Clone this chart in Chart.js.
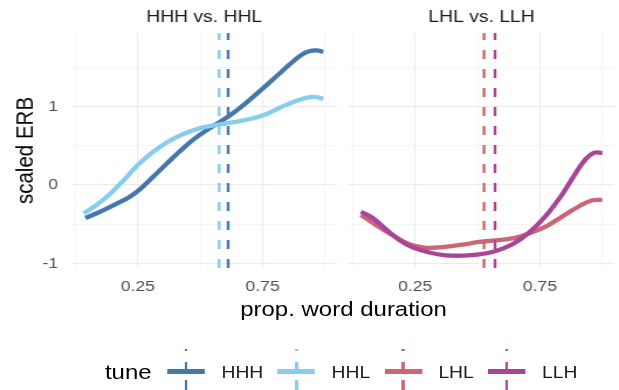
<!DOCTYPE html>
<html>
<head>
<meta charset="utf-8">
<script src="https://cdn.jsdelivr.net/npm/chart.js@4/dist/chart.umd.min.js"></script>
<style>
  html, body { margin: 0; padding: 0; background: #fff; overflow: hidden; }
  body { width: 619px; height: 390px; }
  /* the reference is a bit wider than tall, so draw narrow and stretch */
  #fig { position: relative; width: 529px; height: 390px; transform: scaleX(1.17013); transform-origin: 0 0;
         font-family: "Liberation Sans", Arial, sans-serif; }
  #fig canvas { position: absolute; top: 0; }
  #xtitle { position: absolute; left: 293.6px; top: 297px; transform: translateX(-50%); font-size: 20.5px;
            line-height: 24px; white-space: nowrap; color: #000; }
  #legend { position: absolute; left: 89.7px; top: 341px; height: 49px; display: flex; align-items: flex-start; }
  #legend .ttl { font-size: 20.5px; line-height: 62px; margin-right: 13.7px; color: #000; }
  #legend .key { position: relative; width: 32px; height: 49px; margin-right: 14px; }
  #legend .bar { position: absolute; left: 0; top: 28.3px; width: 32px; height: 4.3px; }
  #legend .vln { position: absolute; left: 14.8px; top: 8px; width: 2.4px; height: 41px; }
  #legend .lab { font-size: 16.5px; line-height: 62px; margin-right: 12.3px; color: #1a1a1a; }
</style>
</head>
<body>
<div id="fig">
  <canvas id="left" width="288" height="300" style="left:0"></canvas>
  <canvas id="right" width="241" height="300" style="left:288px"></canvas>
  <div id="xtitle">prop. word duration</div>
  <div id="legend"><span class="ttl">tune</span></div>
</div>
<script>
// axes
const xTicks = [0, 0.25, 0.5, 0.75, 1];
const xLabels = ['', '0.25', '', '0.75', ''];
const yTicks = [-1, -0.5, 0, 0.5, 1, 1.5];
const yLabels = ['-1', '', '0', '', '1', ''];

// tunes
const tunes = ['HHH', 'HHL', 'LHL', 'LLH'];
const tuneColors = ['#4477AA', '#88CCEE', '#CC6677', '#AA4499'];
const panelTitles = ['HHH vs. HHL', 'LHL vs. LLH'];

// smoothed curves (proportion of word duration, scaled ERB)
const hhhX = [0.040, 0.100, 0.167, 0.220, 0.260, 0.313, 0.367, 0.420, 0.473, 0.527, 0.580, 0.633, 0.687, 0.753, 0.807, 0.860, 0.900, 0.933, 0.967, 0.993];
const hhhY = [-0.42, -0.34, -0.235, -0.145, -0.05, 0.11, 0.275, 0.435, 0.58, 0.70, 0.805, 0.92, 1.055, 1.235, 1.39, 1.54, 1.645, 1.70, 1.715, 1.695];
const hhlX = [0.033, 0.087, 0.140, 0.193, 0.247, 0.300, 0.367, 0.433, 0.500, 0.567, 0.633, 0.700, 0.767, 0.833, 0.900, 0.940, 0.967, 0.993];
const hhlY = [-0.36, -0.25, -0.11, 0.06, 0.245, 0.395, 0.545, 0.65, 0.725, 0.765, 0.80, 0.84, 0.905, 1.005, 1.09, 1.12, 1.12, 1.095];
const lhlX = [0.033, 0.093, 0.160, 0.227, 0.293, 0.360, 0.440, 0.507, 0.573, 0.640, 0.707, 0.773, 0.840, 0.907, 0.960, 1.000];
const lhlY = [-0.38, -0.51, -0.64, -0.755, -0.80, -0.79, -0.76, -0.725, -0.705, -0.68, -0.615, -0.53, -0.40, -0.27, -0.195, -0.19];
const llhX = [0.033, 0.080, 0.133, 0.187, 0.240, 0.307, 0.373, 0.440, 0.507, 0.573, 0.640, 0.707, 0.773, 0.840, 0.893, 0.933, 0.967, 1.000];
const llhY = [-0.34, -0.42, -0.565, -0.70, -0.795, -0.86, -0.895, -0.90, -0.885, -0.84, -0.755, -0.605, -0.395, -0.115, 0.15, 0.33, 0.41, 0.41];

// dashed reference lines, one per tune
const tuneMarks = [0.612, 0.576, 0.526, 0.570];

const curves = [[hhhX, hhhY], [hhlX, hhlY], [lhlX, lhlY], [llhX, llhY]];
const xMin = -0.016, xMax = 1.048, yMin = -1.057, yMax = 1.936;

Chart.defaults.font.family = '"Liberation Sans", Arial, sans-serif';

function curveSet(i) {
  const [xs, ys] = curves[i];
  return {
    data: xs.map((x, k) => ({ x: x, y: ys[k] })),
    borderColor: tuneColors[i],
    borderWidth: 4.3,
    pointRadius: 0,
    tension: 0.4,
    borderCapStyle: 'butt'
  };
}

function markSet(i) {
  return {
    data: [{ x: tuneMarks[i], y: yMin }, { x: tuneMarks[i], y: yMax }],
    borderColor: tuneColors[i],
    borderWidth: 2.4,
    borderDash: [9, 10],
    pointRadius: 0
  };
}

function makePanel(id, p, first) {
  const a = p * 2, b = p * 2 + 1;
  return new Chart(document.getElementById(id), {
    type: 'line',
    data: { datasets: [markSet(b), markSet(a), curveSet(b), curveSet(a)] },
    options: {
      responsive: false,
      animation: false,
      layout: { padding: { left: 0, right: first ? 0 : 4, top: 0, bottom: 0 } },
      plugins: {
        legend: { display: false },
        tooltip: { enabled: false },
        title: {
          display: true, text: panelTitles[p], fullSize: false, color: '#1a1a1a',
          font: { size: 16.5, weight: 'normal' }, padding: { top: 8, bottom: 5.2 }
        }
      },
      scales: {
        x: {
          type: 'linear', min: xMin, max: xMax,
          afterBuildTicks: s => { s.ticks = xTicks.map(v => ({ value: v })); },
          afterFit: s => { s.height = 32; },
          ticks: {
            callback: v => xLabels[xTicks.indexOf(v)], autoSkip: false, maxRotation: 0,
            color: '#4d4d4d', font: { size: 15 }, padding: 10
          },
          grid: { color: '#ebebeb', drawTicks: false,
                  lineWidth: c => (c.tick && xLabels[xTicks.indexOf(c.tick.value)]) ? 1.1 : 0.55 },
          border: { display: false }
        },
        y: {
          type: 'linear', min: yMin, max: yMax,
          afterBuildTicks: s => { s.ticks = yTicks.map(v => ({ value: v })); },
          afterFit: s => { s.width = first ? 61 : 10; },
          ticks: {
            display: first, callback: v => yLabels[yTicks.indexOf(v)], autoSkip: false,
            color: '#4d4d4d', font: { size: 15 }, padding: 11.4
          },
          title: {
            display: first, text: 'scaled ERB', color: '#000',
            font: { size: 20.5 }, padding: { top: 9.9, bottom: 0 }
          },
          grid: { color: '#ebebeb', drawTicks: false,
                  lineWidth: c => (c.tick && yLabels[yTicks.indexOf(c.tick.value)]) ? 1.1 : 0.55 },
          border: { display: false }
        }
      }
    }
  });
}

makePanel('left', 0, true);
makePanel('right', 1, false);

// legend: line with a dashed vertical through it, like the ggplot key
const legend = document.getElementById('legend');
tunes.forEach((t, i) => {
  const key = document.createElement('div');
  key.className = 'key';
  const c = tuneColors[i];
  key.innerHTML = '<div class="bar" style="background:' + c + '"></div>' +
    '<div class="vln" style="background:linear-gradient(to bottom,' + c + ' 0 2px, transparent 2px 13px,' +
    c + ' 13px 23px, transparent 23px 31px,' + c + ' 31px 41px)"></div>';
  const lab = document.createElement('span');
  lab.className = 'lab';
  lab.textContent = t;
  legend.appendChild(key);
  legend.appendChild(lab);
});
</script>
</body>
</html>
